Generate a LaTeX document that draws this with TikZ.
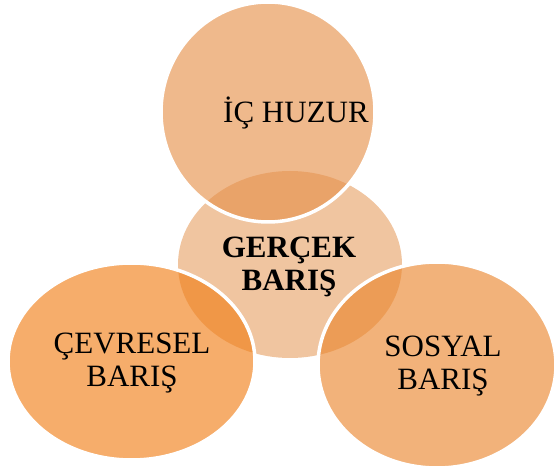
\documentclass[tikz,border=0pt]{standalone}
\usepackage{fontspec}
\setmainfont{Liberation Serif}
\usetikzlibrary{shapes.geometric}
\definecolor{cmid}{RGB}{240,197,160}
\definecolor{ctop}{RGB}{230,144,73}
\definecolor{cleft}{RGB}{241,125,20}
\definecolor{cright}{RGB}{234,133,44}
\tikzset{
  blob/.style={ellipse, inner sep=0pt, align=center, font=\fontsize{31}{33}\selectfont},
  outer/.style={blob, draw=white, line width=3.5pt, fill opacity=0.63, text opacity=1, draw opacity=1}
}
\begin{document}
\begin{tikzpicture}[x=1pt,y=-1pt]
\useasboundingbox (0,0) rectangle (560,470);
\node[blob, fill=cmid, minimum width=224pt, minimum height=187pt] (mid) at (290,264.5) {};
\node[outer, fill=ctop, minimum width=214pt, minimum height=220pt] (top) at (268,112) {};
\node[outer, fill=cleft, minimum width=247pt, minimum height=197pt] (left) at (131.5,361.5) {};
\node[outer, fill=cright, minimum width=238pt, minimum height=206pt] (right) at (437,365) {};
\node[font=\fontsize{31}{33}\selectfont, anchor=base] (ttop) at (296,123) {İÇ HUZUR};
\node[font=\bfseries\fontsize{31}{33}\selectfont, align=center, anchor=base] (tmid) at (289,291) {GERÇEK\\BARIŞ};
\node[font=\fontsize{31}{33}\selectfont, align=center, anchor=base] (tleft) at (132,387) {ÇEVRESEL\\BARIŞ};
\node[font=\fontsize{31}{33}\selectfont, align=center, anchor=base] (tright) at (443,390) {SOSYAL\\BARIŞ};
\end{tikzpicture}
\end{document}
